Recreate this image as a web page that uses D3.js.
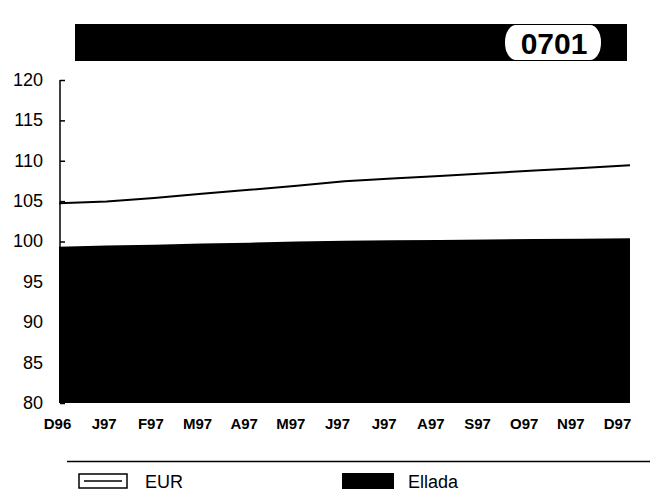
<!DOCTYPE html>
<html>
<head>
<meta charset="utf-8">
<script src="https://cdn.jsdelivr.net/npm/d3@7"></script>
<style>
	body { margin:0; background:#fff; }
	svg { display:block; font-family:'Liberation Sans', Arial, Helvetica, sans-serif; }
</style>
</head>
<body>
<script>
var months = ['D96','J97','F97','M97','A97','M97','J97','J97','A97','S97','O97','N97','D97'];
var eurValues = [104.75,104.95,105.4,105.9,106.4,106.9,107.45,107.8,108.1,108.45,108.8,109.1,109.45];
var elladaValues = [99.35,99.5,99.6,99.75,99.85,100.0,100.1,100.15,100.2,100.25,100.3,100.35,100.4];
var yTicks = [80,85,90,95,100,105,110,115,120];
var seriesNames = ['EUR','Ellada'];
var codeLabel = '0701';

var width = 653, height = 497;

var canvas = d3.select('body')
				.append('svg')
				.attr('width',width)
				.attr('height',height);

var x = d3.scalePoint()
			.domain(d3.range(months.length))
			.range([59,630]);

var xLabel = d3.scalePoint()
			.domain(d3.range(months.length))
			.range([57,617]);

var y = d3.scaleLinear()
			.domain([80,120])
			.range([403,80]);

// title bar
canvas.append('rect')
	.attr('x',75).attr('y',24)
	.attr('width',552).attr('height',37)
	.attr('fill','#000');
canvas.append('rect')
	.attr('x',505).attr('y',25)
	.attr('width',96).attr('height',35)
	.attr('rx',11).attr('ry',17)
	.attr('fill','#fff');
canvas.append('text')
	.attr('x',554).attr('y',54)
	.attr('text-anchor','middle')
	.attr('font-size',30)
	.attr('font-weight','bold')
	.text(codeLabel);

// Ellada area
var area = d3.area()
			.x((d,i)=>x(i))
			.y0(y(80))
			.y1((d)=>y(d));

canvas.append('path')
	.datum(elladaValues)
	.attr('fill','#000')
	.attr('d',area);

// EUR line
var line = d3.line()
			.x((d,i)=>x(i))
			.y((d)=>y(d));

canvas.append('path')
	.datum(eurValues)
	.attr('fill','none')
	.attr('stroke','#000')
	.attr('stroke-width',2)
	.attr('d',line);

// y axis
var yAxis = d3.axisRight(y)
			.tickValues(yTicks)
			.tickSize(5)
			.tickFormat('');
var yg = canvas.append('g')
			.attr('transform','translate(60,0)')
			.call(yAxis);
yg.select('.domain').attr('d','M0,'+y(120)+'V'+y(80)).attr('stroke-width',1.5);
yg.selectAll('line').attr('stroke-width',1.5);

canvas.append('g')
	.selectAll('text')
	.data(yTicks)
	.enter()
	.append('text')
	.attr('x',43)
	.attr('y',(d)=>y(d))
	.attr('dy','0.33em')
	.attr('text-anchor','end')
	.attr('font-size',18)
	.text((d)=>d);

// x labels
var xAxis = d3.axisBottom(xLabel)
			.tickSize(0)
			.tickFormat((i)=>months[i]);
var xg = canvas.append('g')
			.attr('transform','translate(0,415)')
			.call(xAxis);
xg.select('.domain').remove();
xg.selectAll('text')
	.attr('font-size',15)
	.attr('font-weight','bold')
	.attr('font-family','Liberation Sans, Arial, sans-serif')
	.attr('fill','#000');

// legend
canvas.append('line')
	.attr('x1',67).attr('x2',650)
	.attr('y1',461.5).attr('y2',461.5)
	.attr('stroke','#000')
	.attr('stroke-width',1.5);

canvas.append('rect')
	.attr('x',79).attr('y',474)
	.attr('width',48).attr('height',14)
	.attr('fill','#fff')
	.attr('stroke','#000')
	.attr('stroke-width',1.5);
canvas.append('line')
	.attr('x1',84).attr('x2',122)
	.attr('y1',481).attr('y2',481)
	.attr('stroke','#000')
	.attr('stroke-width',1.5);
canvas.append('text')
	.attr('x',145).attr('y',488)
	.attr('font-size',18)
	.text(seriesNames[0]);

canvas.append('rect')
	.attr('x',342).attr('y',473)
	.attr('width',52).attr('height',16)
	.attr('fill','#000');
canvas.append('text')
	.attr('x',408).attr('y',488)
	.attr('font-size',18)
	.text(seriesNames[1]);
</script>
</body>
</html>
